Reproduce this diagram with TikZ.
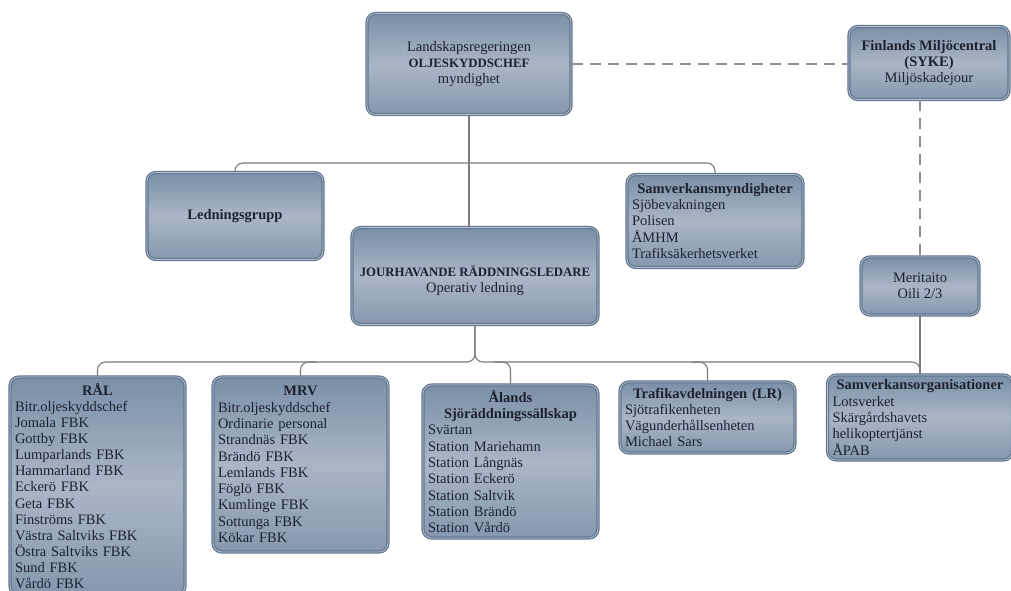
\documentclass[tikz,border=0pt]{standalone}
\usepackage{fontspec}
\setmainfont{Liberation Serif}
\usetikzlibrary{calc}
\definecolor{boxtop}{HTML}{7B8FA8}
\definecolor{boxmid}{HTML}{A9B6C6}
\definecolor{boxbot}{HTML}{8698AF}
\definecolor{boxedge}{HTML}{627690}
\definecolor{boxrim}{HTML}{B9C5D2}
\definecolor{ink}{HTML}{1C2130}
\definecolor{wirecol}{HTML}{7C7C7C}
\definecolor{dashcol}{HTML}{8E8E8E}
\def\hd#1{\makebox[\linewidth]{\bfseries #1}}
\def\capsfont{\fontsize{12.8}{16.3}\selectfont\bfseries}
\tikzset{
	orgbox/.style={rectangle, rounded corners=9pt, draw=boxedge, line width=1.3pt,
		double=boxrim, double distance=0.7pt, top color=boxtop, bottom color=boxbot,
		middle color=boxmid, text=ink, inner xsep=5pt, inner ysep=3pt,
		font=\fontsize{14.5}{16.3}\selectfont},
	listbox/.style={orgbox, align=left},
	wire/.style={draw=wirecol, line width=1.1pt},
	dashwire/.style={draw=dashcol, line width=1.6pt, dash pattern=on 11pt off 7pt}
}

\begin{document}
\begin{tikzpicture}[x=1pt,y=-1pt]
	%%%%% START %%%%%
	\fill[white] (0,0) rectangle (1011,590);
	\useasboundingbox (0,0) rectangle (1011,590);
	
	% top level
	\node[orgbox, minimum width=204pt, minimum height=101pt, align=center] (lrs) at (469,64)
		{Landskapsregeringen\\{\capsfont OLJESKYDDSCHEF}\\myndighet};
	\node[orgbox, minimum width=160pt, minimum height=73pt, align=center] (syke) at (929,63)
		{\textbf{Finlands Miljöcentral}\\\textbf{(SYKE)}\\Miljöskadejour};
	
	% middle level
	\node[orgbox, minimum width=176pt, minimum height=87pt, font=\fontsize{14.5}{16.3}\selectfont\bfseries] (ledn) at (235,216)
		{Ledningsgrupp};
	\node[listbox, text width=166pt, minimum height=93pt] (samm) at (715,221)
		{\hd{Samverkansmyndigheter}\\Sjöbevakningen\\Polisen\\ÅMHM\\Trafiksäkerhetsverket};
	\node[orgbox, minimum width=246pt, minimum height=97pt, align=center] (jour) at (475,276)
		{\mbox{}\\[4pt]{\capsfont JOURHAVANDE RÄDDNINGSLEDARE}\\Operativ ledning};
	\node[orgbox, minimum width=118pt, minimum height=58pt, align=center] (meri) at (920,286)
		{Meritaito\\Oili 2/3};
	
	% bottom level
	\node[listbox, text width=165pt, minimum height=218pt, font=\fontsize{14.5}{16.1}\selectfont] (ral) at (97.5,486)
		{\hd{RÅL}\\Bitr.oljeskyddschef\\Jomala FBK\\Gottby FBK\\Lumparlands FBK\\Hammarland FBK\\Eckerö FBK\\Geta FBK\\Finströms FBK\\Västra Saltviks FBK\\Östra Saltviks FBK\\Sund FBK\\Vårdö FBK};
	\node[listbox, text width=165pt, minimum height=175pt] (mrv) at (300.5,464.5)
		{\hd{MRV}\\Bitr.oljeskyddschef\\Ordinarie personal\\Strandnäs FBK\\Brändö FBK\\Lemlands FBK\\Föglö FBK\\Kumlinge FBK\\Sottunga FBK\\Kökar FBK};
	\node[listbox, text width=165pt, minimum height=153pt] (alands) at (510.5,461.5)
		{\hd{Ålands}\\\hd{Sjöräddningssällskap}\\Svärtan\\Station Mariehamn\\Station Långnäs\\Station Eckerö\\Station Saltvik\\Station Brändö\\Station Vårdö};
	\node[listbox, text width=165pt, minimum height=71pt] (trafik) at (707.5,417.5)
		{\hd{Trafikavdelningen (LR)}\\Sjötrafikenheten\\Vägunderhållsenheten\\Michael Sars};
	\node[listbox, text width=175pt, minimum height=85pt] (samorg) at (920,417.5)
		{\hd{Samverkansorganisationer}\\Lotsverket\\Skärgårdshavets\\helikoptertjänst\\ÅPAB};
	
	\coordinate (busT) at (469,163);
	\coordinate (busB) at (475,362);
	
	% connectors
	\draw[wire] (lrs.south) -- (lrs.south |- jour.north);
	\draw[wire, rounded corners=8pt] (ledn.north) |- (busT) -| (samm.north);
	\draw[dashwire] (lrs.east) -- (lrs.east -| syke.west);
	\draw[dashwire] (meri.north |- syke.south) -- (meri.north);
	\draw[wire] (meri.south) -- (samorg.north);
	
	\draw[wire, rounded corners=8pt] (jour.south) |- (ral.north |- busB) -- (ral.north);
	\draw[wire, rounded corners=8pt] (jour.south) |- (samorg.north |- busB) -- (samorg.north);
	\draw[wire, rounded corners=8pt] ($(mrv.north |- busB)+(16,0)$) -| (mrv.north);
	\draw[wire, rounded corners=8pt] ($(alands.north |- busB)+(-16,0)$) -| (alands.north);
	\draw[wire, rounded corners=8pt] ($(trafik.north |- busB)+(-16,0)$) -| (trafik.north);
	%%%%% END %%%%%
\end{tikzpicture}
\end{document}
